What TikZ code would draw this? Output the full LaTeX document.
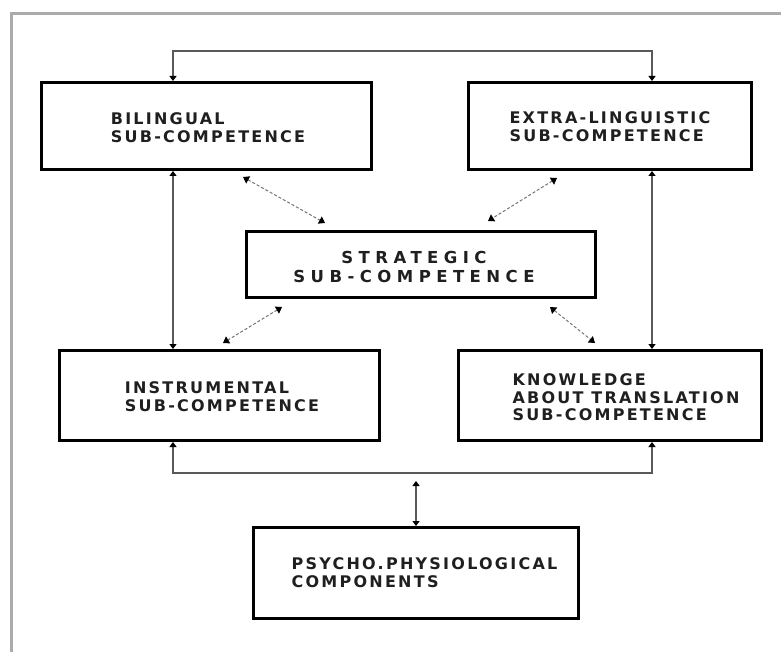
\documentclass[tikz,border=0pt]{standalone}
\usepackage{fontspec}
\usetikzlibrary{arrows.meta,calc}
\newfontfamily\boxfont{DejaVu Sans}[LetterSpace=14]
\newfontfamily\bigboxfont{DejaVu Sans}[LetterSpace=33]
\begin{document}
\begin{tikzpicture}[x=1pt,y=-1pt,
  compbox/.style={draw=black,line width=3pt,rectangle,inner sep=0pt},
  boxtext/.style={align=left,inner sep=0pt,text=black!88,
    font=\boxfont\bfseries\fontsize{16}{17.5}\selectfont},
  bigtext/.style={align=center,inner sep=0pt,text=black!88,
    font=\bigboxfont\bfseries\fontsize{16.5}{19}\selectfont},
  link/.style={line width=1.6pt,draw=black!65,
    {Triangle[width=7pt,length=5pt,black]}-{Triangle[width=7pt,length=5pt,black]}},
  dlink/.style={line width=1pt,draw=black!55,dash pattern=on 3pt off 2pt,
    {Triangle[width=8pt,length=6pt,black]}-{Triangle[width=8pt,length=6pt,black]}},
  frameline/.style={line width=3pt,draw=black!33}]
\useasboundingbox (0,0) rectangle (781,652);
% page frame
\draw[frameline] (781,14) -- (11,14) -- (11,652);

% sub-competence boxes
\node[compbox,minimum width=330pt,minimum height=87pt] (bil) at (206.5,126) {};
\node[compbox,minimum width=283pt,minimum height=87pt] (ext) at (610,126) {};
\node[compbox,minimum width=349pt,minimum height=66pt] (str) at (421,264.5) {};
\node[compbox,minimum width=320pt,minimum height=90pt] (ins) at (219.5,395.5) {};
\node[compbox,minimum width=303pt,minimum height=90pt] (kno) at (610,395.5) {};
\node[compbox,minimum width=325pt,minimum height=91pt] (psy) at (416,573) {};

% box captions
\node[boxtext] (bil-t) at (208,127.5) {BILINGUAL\\SUB-COMPETENCE};
\node[boxtext] (ext-t) at (610,126.5) {EXTRA-LINGUISTIC\\SUB-COMPETENCE};
\node[bigtext] (str-t) at (414,267) {STRATEGIC\\SUB-COMPETENCE};
\node[boxtext] (ins-t) at (222,396.5) {INSTRUMENTAL\\SUB-COMPETENCE};
\node[boxtext] (kno-t) at (626,397.5) {KNOWLEDGE\\ABOUT TRANSLATION\\SUB-COMPETENCE};
\node[boxtext] (psy-t) at (424.5,572.5) {PSYCHO.PHYSIOLOGICAL\\COMPONENTS};

% column positions of the long connectors
\coordinate (cl) at (173,0);
\coordinate (cr) at (652,0);
\coordinate (hub) at (416,481);

% outer connectors
\draw[link] (bil.north -| cl) -- ++(0,-30) -| (ext.north -| cr);
\draw[link] (bil.south -| cl) -- (ins.north -| cl);
\draw[link] (ext.south -| cr) -- (kno.north -| cr);
\draw[link] (ins.south -| cl) -- ++(0,31) -| (kno.south -| cr);
\draw[link] (hub) -- (psy.north);

% links to the strategic sub-competence
\draw[dlink] ($(bil.south)+(36.5,6)$) -- ($(str.north)+(-96,-7)$);
\draw[dlink] ($(ext.south)+(-53,7)$) -- ($(str.north)+(67,-9)$);
\draw[dlink] ($(str.south)+(-139,8)$) -- ($(ins.north)+(3.5,-6)$);
\draw[dlink] ($(str.south)+(129,8)$) -- ($(kno.north)+(-15,-6)$);
\end{tikzpicture}
\end{document}
